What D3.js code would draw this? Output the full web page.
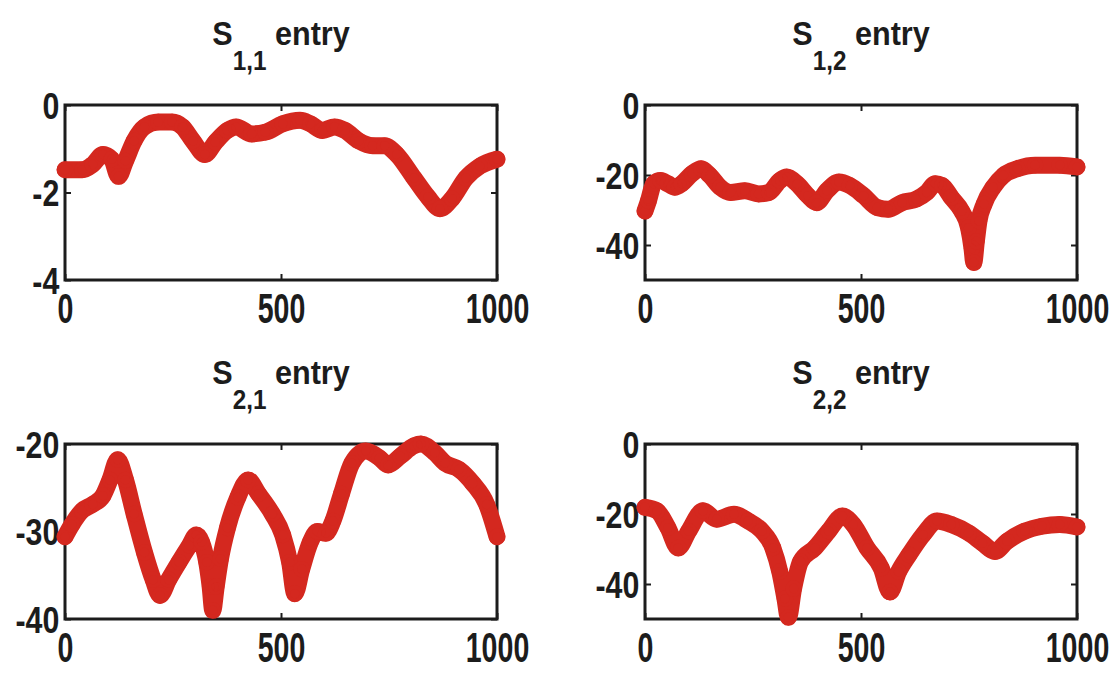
<!DOCTYPE html>
<html>
<head>
<meta charset="utf-8">
<script src="https://cdn.jsdelivr.net/npm/d3@7"></script>
<style>
  html, body { margin: 0; padding: 0; background: #fff; }
  svg { display: block; }
</style>
</head>
<body>
<div id="chart"></div>
<script>
// x ticks shared by all four panels
var xTicks = [0, 500, 1000];

// panel titles: main letter + subscript
var titleSubs = ["1,1", "1,2", "2,1", "2,2"];

// y range and ticks of each panel
var yDomains = [[-4, 0], [-50, 0], [-40, -20], [-50, 0]];
var yTicks = [[-4, -2, 0], [-40, -20, 0], [-40, -30, -20], [-40, -20, 0]];

// S11 entry
var s11X = [0, 40, 64, 88, 108, 124, 140, 160, 184, 216, 248, 272, 296, 324, 348, 376, 396, 432, 464, 504, 544, 568, 596, 624, 648, 680, 712, 740, 768, 808, 840, 868, 896, 928, 960, 1000];
var s11Y = [-1.48, -1.48, -1.36, -1.13, -1.24, -1.63, -1.28, -0.82, -0.50, -0.39, -0.39, -0.50, -0.82, -1.13, -0.85, -0.58, -0.50, -0.66, -0.62, -0.43, -0.35, -0.43, -0.58, -0.50, -0.58, -0.82, -0.93, -0.93, -1.13, -1.67, -2.10, -2.37, -2.14, -1.67, -1.40, -1.24];

// S12 entry
var s12X = [0, 8, 20, 36, 53, 69, 85, 109, 130, 150, 174, 198, 231, 263, 287, 312, 328, 352, 377, 397, 421, 449, 474, 506, 538, 563, 595, 628, 652, 672, 688, 709, 733, 749, 757, 761, 767, 773, 785, 806, 830, 862, 903, 960, 1000];
var s12Y = [-30.3, -27.4, -22.5, -21.6, -22.5, -23.5, -22.5, -19.6, -18.2, -20.1, -23.5, -25.0, -24.5, -25.4, -25.0, -21.6, -20.6, -22.5, -25.9, -27.9, -24.5, -22.0, -23.0, -25.9, -29.3, -29.8, -27.9, -26.9, -25.0, -22.5, -23.0, -26.4, -30.3, -35.1, -41.0, -45.0, -39.0, -33.2, -28.3, -23.5, -20.1, -18.2, -17.2, -17.2, -17.7];

// S21 entry
var s21X = [0, 16, 40, 64, 88, 104, 122, 140, 160, 184, 204, 220, 240, 264, 288, 304, 316, 328, 336, 342, 350, 360, 376, 400, 424, 448, 480, 504, 520, 532, 548, 568, 584, 604, 620, 640, 664, 696, 728, 748, 776, 808, 824, 856, 880, 912, 944, 976, 1000];
var s21Y = [-30.6, -29.2, -27.6, -26.9, -25.9, -24.1, -21.8, -24.1, -28.0, -32.4, -35.5, -37.3, -35.5, -33.5, -31.6, -30.4, -31.2, -33.5, -36.3, -39.0, -36.3, -33.1, -29.6, -26.1, -24.1, -25.7, -28.0, -30.4, -33.5, -37.1, -34.3, -31.2, -30.0, -30.2, -28.8, -25.7, -22.2, -20.8, -21.6, -22.4, -21.4, -20.2, -20.0, -21.0, -22.2, -22.9, -24.5, -26.9, -30.6];

// S22 entry
var s22X = [0, 28, 53, 77, 101, 134, 166, 206, 239, 271, 296, 312, 324, 332, 344, 360, 393, 425, 457, 482, 514, 547, 567, 587, 611, 644, 676, 709, 749, 781, 810, 838, 879, 919, 960, 1000];
var s22Y = [-18.1, -19.1, -23.9, -29.7, -24.9, -19.1, -21.5, -20.1, -22.0, -24.9, -29.7, -36.5, -44.2, -49.5, -41.3, -33.6, -29.7, -24.9, -20.6, -23.0, -29.7, -35.5, -42.3, -36.5, -31.7, -25.9, -22.0, -23.0, -25.4, -28.3, -30.7, -27.8, -24.9, -23.5, -23.0, -23.7];

var seriesX = [s11X, s12X, s21X, s22X];
var seriesY = [s11Y, s12Y, s21Y, s22Y];

var W = 1119, H = 673;
var colX = [65, 645], rowY = [105, 444];
var pw = 432, ph = 175;
var red = "#d4281f", ink = "#1c1c1c";
var font = "'Liberation Sans', Arial, sans-serif";

var svg = d3.select("#chart").append("svg")
  .attr("width", W).attr("height", H);

seriesX.forEach(function(xs, k){
  var px = colX[k % 2], py = rowY[Math.floor(k / 2)];
  var g = svg.append("g").attr("transform", "translate(" + px + "," + py + ")");

  var x = d3.scaleLinear().domain([0, 1000]).range([0, pw]);
  var y = d3.scaleLinear().domain(yDomains[k]).range([ph, 0]);

  // box
  g.append("rect")
    .attr("width", pw).attr("height", ph)
    .attr("fill", "none").attr("stroke", ink).attr("stroke-width", 3);

  // inside ticks on all four sides, labels only bottom and left
  var bottom = g.append("g").attr("transform", "translate(0," + ph + ")")
    .call(d3.axisBottom(x).tickValues(xTicks).tickSize(-6).tickFormat(function(d){ return String(d); }));
  var top = g.append("g")
    .call(d3.axisTop(x).tickValues(xTicks).tickSize(-6).tickFormat(""));
  var left = g.append("g")
    .call(d3.axisLeft(y).tickValues(yTicks[k]).tickSize(-6).tickFormat(function(d){ return String(d); }));
  var right = g.append("g").attr("transform", "translate(" + pw + ",0)")
    .call(d3.axisRight(y).tickValues(yTicks[k]).tickSize(-6).tickFormat(""));

  [bottom, top, left, right].forEach(function(a){
    a.select(".domain").remove();
    a.selectAll(".tick line").attr("stroke", ink).attr("stroke-width", 2);
  });

  bottom.selectAll(".tick text")
    .attr("y", 13).attr("dy", "0.71em")
    .attr("transform", "scale(0.68,1)")
    .attr("fill", ink)
    .style("font-family", font).style("font-weight", "bold").style("font-size", "42px");

  left.selectAll(".tick text")
    .attr("x", -7).attr("dy", "0.36em")
    .attr("transform", "scale(0.82,1)")
    .attr("fill", ink)
    .style("font-family", font).style("font-weight", "bold").style("font-size", "37px");

  // the trace: dense markers make a thick band
  var pts = xs.map(function(v, i){ return [v, seriesY[k][i]]; });
  var line = d3.line()
    .x(function(d){ return x(d[0]); })
    .y(function(d){ return y(d[1]); })
    .curve(d3.curveMonotoneX);

  g.append("path")
    .datum(pts)
    .attr("d", line)
    .attr("fill", "none")
    .attr("stroke", red)
    .attr("stroke-width", 17)
    .attr("stroke-linecap", "round")
    .attr("stroke-linejoin", "round");

  g.selectAll(".mark")
    .data(pts).enter()
    .append("circle")
    .attr("class", "mark")
    .attr("cx", function(d){ return x(d[0]); })
    .attr("cy", function(d){ return y(d[1]); })
    .attr("r", 6.5)
    .attr("fill", "none")
    .attr("stroke", red)
    .attr("stroke-width", 3.5);

  // title
  var t = svg.append("text")
    .attr("transform", "translate(" + (px + pw / 2) + "," + (py - 60) + ") scale(0.9,1)")
    .attr("text-anchor", "middle")
    .attr("fill", ink)
    .style("font-family", font).style("font-weight", "bold");
  t.append("tspan").style("font-size", "34px").text("S");
  t.append("tspan").style("font-size", "27px").attr("dy", 25).text(titleSubs[k]);
  t.append("tspan").style("font-size", "34px").attr("dy", -25).text(" entry");
});
</script>
</body>
</html>
